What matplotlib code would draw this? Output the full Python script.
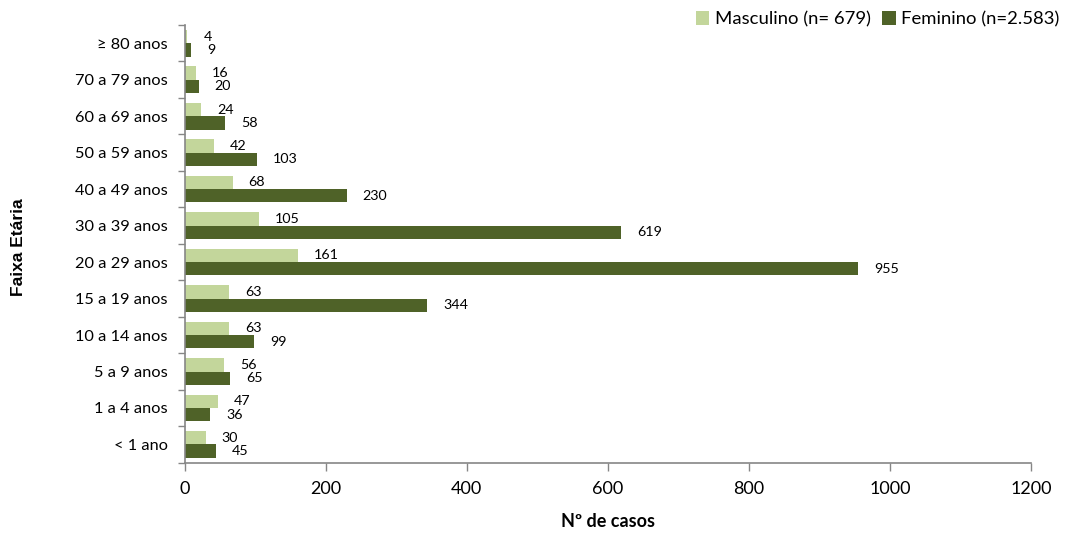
import matplotlib.pyplot as plt
import numpy as np

# faixas etárias, de baixo para cima
faixas = ["< 1 ano", "1 a 4 anos", "5 a 9 anos", "10 a 14 anos", "15 a 19 anos",
          "20 a 29 anos", "30 a 39 anos", "40 a 49 anos", "50 a 59 anos",
          "60 a 69 anos", "70 a 79 anos", "≥ 80 anos"]
masculino = [30, 47, 56, 63, 63, 161, 105, 68, 42, 24, 16, 4]
feminino = [45, 36, 65, 99, 344, 955, 619, 230, 103, 58, 20, 9]
xticks = [0, 200, 400, 600, 800, 1000, 1200]

cor_masc = "#c3d69b"
cor_fem = "#4f6228"
cinza = "#868686"

plt.rcParams['font.family'] = ['Lato', 'DejaVu Sans']

fig = plt.figure(figsize=(10.73, 5.37), dpi=100)
ax = fig.add_axes([0.172, 0.1384, 0.789, 0.815])

y = np.arange(len(faixas))
h = 0.365
ax.barh(y + h / 2, masculino, height=h, color=cor_masc, label="Masculino (n= 679)")
ax.barh(y - h / 2, feminino, height=h, color=cor_fem, label="Feminino (n=2.583)")

for i in range(len(faixas)):
    ax.annotate(str(masculino[i]), (masculino[i], y[i] + h / 2), xytext=(11.5, 0),
                textcoords="offset points", va="center", ha="left", fontsize=10.3)
    ax.annotate(str(feminino[i]), (feminino[i], y[i] - h / 2), xytext=(11.5, 0),
                textcoords="offset points", va="center", ha="left", fontsize=10.3)

ax.set_xlim(0, 1200)
ax.set_ylim(-0.5, len(faixas) - 0.5)
ax.set_xticks(xticks)
ax.set_xticklabels([str(v) for v in xticks], fontsize=13)

# ticks nas divisões entre categorias, rótulos no centro
ax.set_yticks(np.arange(-0.5, len(faixas), 1))
ax.set_yticklabels([])
ax.set_yticks(y, minor=True)
ax.set_yticklabels(faixas, minor=True, fontsize=11.8)
ax.tick_params(axis="y", which="minor", length=0, pad=12)
ax.tick_params(axis="y", which="major", length=5, color=cinza, width=1)
ax.tick_params(axis="x", length=6, color=cinza, width=1, pad=7)

for s in ["top", "right"]:
    ax.spines[s].set_visible(False)
for s in ["left", "bottom"]:
    ax.spines[s].set_color(cinza)
    ax.spines[s].set_linewidth(1.2)

ax.set_xlabel("Nº de casos", fontsize=13, fontweight="bold", labelpad=12)
fig.text(0.017, 0.54, "Faixa Etária", rotation=90, fontsize=12.5, fontweight="bold",
         family="Liberation Sans", va="center", ha="center")

ax.legend(loc="upper right", bbox_to_anchor=(0.998, 1.0), bbox_transform=fig.transFigure,
          ncol=2, frameon=False, fontsize=13.3, handlelength=0.75, handleheight=0.75,
          handletextpad=0.3, columnspacing=0.6, borderaxespad=0.2)

fig.savefig("out.png", dpi=100)
